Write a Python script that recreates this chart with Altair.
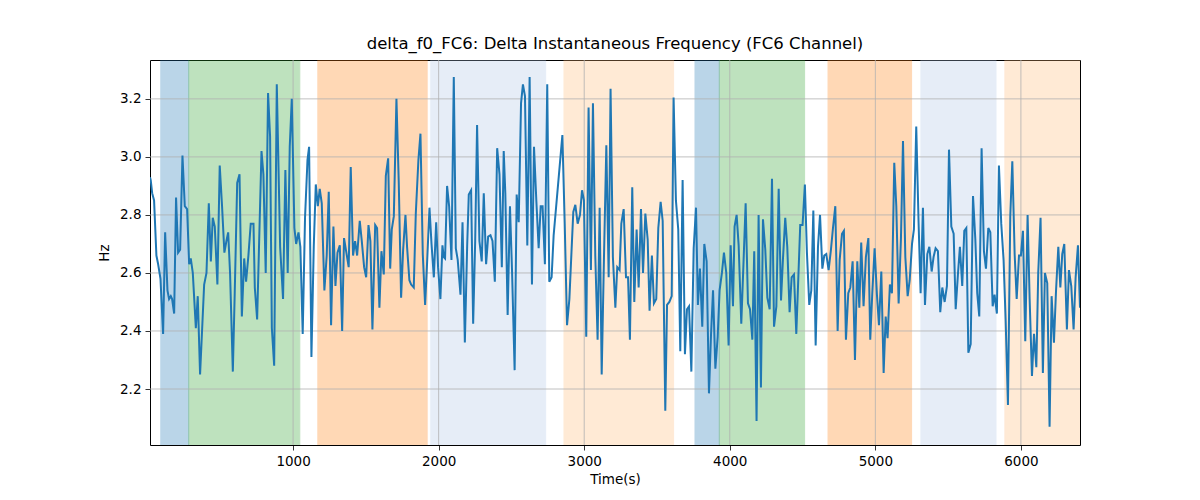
import altair as alt
import pandas as pd

chart_title = "delta_f0_FC6: Delta Instantaneous Frequency (FC6 Channel)"

# shaded segments behind the signal
span_start = [91, 283, 1170, 1946, 2861, 3761, 3928, 4675, 5313, 5890]
span_end = [283, 1046, 1921, 2735, 3614, 3928, 4514, 5249, 5829, 6406]
span_color = ["#1f77b4", "#2ca02c", "#ff7f0e", "#aec7e8", "#ffbb78",
              "#1f77b4", "#2ca02c", "#ff7f0e", "#aec7e8", "#ffbb78"]

x_ticks = [1000, 2000, 3000, 4000, 5000, 6000]
y_ticks = [2.2, 2.4, 2.6, 2.8, 3.0, 3.2]
x_limits = [17, 6406]
y_limits = [2.007, 3.334]

# (time in s, Hz)
delta_f0 = [
    (17, 2.93), (22, 2.92), (32, 2.875), (45, 2.85), (61, 2.66), (73, 2.63), (89, 2.58), (107, 2.39),
    (121, 2.74), (137, 2.54), (148, 2.51), (160, 2.52), (169, 2.51), (183, 2.46), (196, 2.86), (210, 2.67),
    (224, 2.68), (240, 3.005), (256, 2.83), (272, 2.82), (286, 2.63), (297, 2.65), (311, 2.60), (332, 2.41),
    (345, 2.52), (361, 2.25), (389, 2.56), (405, 2.60), (421, 2.84), (435, 2.64), (448, 2.79), (462, 2.76),
    (480, 2.56), (496, 2.97), (512, 2.83), (528, 2.67), (542, 2.71), (554, 2.74), (567, 2.60), (586, 2.26),
    (599, 2.53), (616, 2.91), (632, 2.94), (648, 2.45), (664, 2.65), (677, 2.57), (693, 2.66), (709, 2.77),
    (728, 2.77), (737, 2.55), (753, 2.44), (783, 3.02), (796, 2.94), (812, 2.60), (828, 3.22),
    (842, 3.07), (854, 2.41), (870, 2.28), (888, 3.25), (911, 2.69), (931, 2.51), (947, 2.955), (963, 2.60),
    (977, 3.035), (991, 3.20), (1009, 2.755), (1021, 2.70), (1037, 2.74), (1050, 2.69), (1066, 2.39),
    (1082, 2.79), (1099, 2.99), (1110, 3.035), (1126, 2.31), (1142, 2.69), (1156, 2.905), (1170, 2.83),
    (1183, 2.89), (1197, 2.84), (1215, 2.54), (1231, 2.66), (1245, 2.88), (1261, 2.42), (1277, 2.76),
    (1291, 2.555), (1305, 2.67), (1321, 2.695), (1337, 2.40), (1350, 2.72), (1366, 2.67), (1382, 2.62),
    (1396, 2.965), (1412, 2.66), (1426, 2.71), (1440, 2.66), (1458, 2.78), (1472, 2.71), (1488, 2.62),
    (1502, 2.585), (1518, 2.765), (1531, 2.71), (1545, 2.405), (1564, 2.765), (1577, 2.755), (1593, 2.48),
    (1607, 2.675), (1623, 2.595), (1637, 2.935), (1653, 2.995),
    (1667, 2.615), (1678, 2.75), (1692, 2.795), (1710, 3.20), (1726, 2.91), (1742, 2.515), (1756, 2.68),
    (1772, 2.80), (1783, 2.69), (1799, 2.575), (1811, 2.56), (1829, 2.55), (1843, 2.805), (1861, 2.99),
    (1875, 3.08), (1891, 2.665), (1907, 2.49), (1921, 2.64), (1937, 2.825), (1951, 2.70), (1967, 2.585),
    (1983, 2.775), (1996, 2.62), (2012, 2.51), (2026, 2.695), (2035, 2.655), (2044, 2.65), (2058, 2.90),
    (2072, 2.83), (2088, 2.645), (2104, 3.275), (2118, 2.685), (2131, 2.645), (2150, 2.525), (2164, 2.775),
    (2180, 2.36), (2196, 2.695), (2207, 2.87), (2223, 2.885), (2237, 2.425), (2251, 2.71), (2264, 3.11),
    (2280, 2.71), (2296, 2.64), (2310, 2.875), (2326, 2.63), (2340, 2.725), (2356, 2.73), (2370, 2.71),
    (2386, 2.57), (2402, 3.03), (2418, 2.94), (2434, 2.62),
    (2447, 3.02), (2458, 2.875), (2474, 2.455), (2490, 2.83), (2504, 2.61), (2522, 2.265), (2536, 2.87),
    (2550, 2.775), (2566, 3.185), (2579, 3.25), (2593, 3.21), (2609, 2.695), (2625, 3.275), (2641, 2.56),
    (2655, 3.035), (2671, 2.85), (2687, 2.685), (2701, 2.83), (2714, 2.83), (2730, 2.63), (2746, 3.25),
    (2760, 2.57), (2776, 2.585), (2790, 2.73), (2850, 3.075), (2866, 2.77), (2882, 2.42), (2898, 2.51),
    (2911, 2.655), (2925, 2.81), (2939, 2.835), (2955, 2.77), (2971, 2.80), (2985, 2.885), (2998, 2.85),
    (3014, 2.38), (3030, 3.17), (3046, 2.61), (3060, 3.185), (3076, 2.66), (3092, 2.37), (3106, 2.825),
    (3120, 2.25), (3136, 2.66), (3152, 3.04), (3168, 2.585), (3181, 3.235), (3197, 2.655), (3214, 2.48),
    (3227, 2.62),
    (3243, 2.61), (3255, 2.77), (3271, 2.82), (3287, 2.585), (3301, 2.585), (3314, 2.37), (3330, 2.895),
    (3344, 2.50), (3360, 2.75), (3374, 2.55), (3390, 2.82), (3404, 2.60), (3420, 2.805), (3436, 2.715),
    (3449, 2.47), (3465, 2.66), (3479, 2.495), (3495, 2.51), (3509, 2.755), (3525, 2.845), (3539, 2.78),
    (3557, 2.125), (3569, 2.49), (3585, 2.50), (3601, 2.52), (3614, 3.205), (3630, 2.85), (3646, 2.75),
    (3660, 2.33), (3676, 2.92), (3692, 2.32), (3706, 2.475), (3720, 2.485), (3736, 2.26), (3752, 2.685),
    (3768, 2.825), (3781, 2.49), (3795, 2.615), (3811, 2.415), (3825, 2.70), (3841, 2.64), (3857, 2.185),
    (3871, 2.385), (3885, 2.54), (3901, 2.27), (3917, 2.38), (3930, 2.54), (3946, 2.60), (3960, 2.67),
    (3976, 2.60), (3992, 2.35), (4006, 2.695), (4022, 2.485),
    (4033, 2.76), (4047, 2.80), (4061, 2.695), (4079, 2.425), (4095, 2.645), (4109, 2.84), (4125, 2.495),
    (4139, 2.475), (4155, 2.37), (4168, 2.675), (4184, 2.09), (4198, 2.80), (4214, 2.205), (4228, 2.785),
    (4244, 2.68), (4258, 2.515), (4274, 2.475), (4290, 2.925), (4304, 2.415), (4320, 2.485), (4336, 2.89),
    (4352, 2.505), (4365, 2.645), (4381, 2.79), (4395, 2.69), (4411, 2.465), (4425, 2.585), (4441, 2.595),
    (4457, 2.39), (4471, 2.585), (4484, 2.765), (4500, 2.765), (4516, 2.905), (4530, 2.67), (4546, 2.49),
    (4560, 2.54), (4574, 2.815), (4590, 2.35), (4606, 2.69), (4620, 2.80), (4636, 2.615), (4649, 2.66),
    (4663, 2.665), (4679, 2.61), (4695, 2.68), (4709, 2.755), (4725, 2.83), (4741, 2.40), (4755, 2.645),
    (4771, 2.735), (4784, 2.745), (4798, 2.37),
    (4814, 2.53), (4828, 2.55), (4844, 2.64), (4860, 2.30), (4876, 2.64), (4890, 2.48), (4903, 2.705),
    (4919, 2.485), (4935, 2.655), (4952, 2.72), (4965, 2.37), (4979, 2.53), (4995, 2.685), (5011, 2.525),
    (5025, 2.42), (5041, 2.605), (5057, 2.255), (5071, 2.45), (5084, 2.375), (5100, 2.56), (5114, 2.53),
    (5130, 2.98), (5144, 2.83), (5160, 2.495), (5176, 2.72), (5190, 3.055), (5206, 2.655), (5222, 2.52),
    (5236, 2.575), (5252, 2.70), (5265, 2.75), (5281, 3.105), (5297, 2.775), (5311, 2.53), (5327, 2.825),
    (5341, 2.49), (5357, 2.665), (5371, 2.69), (5387, 2.605), (5400, 2.655), (5414, 2.685), (5430, 2.675),
    (5446, 2.465), (5460, 2.55), (5476, 2.50), (5492, 2.555), (5506, 3.025), (5522, 2.76), (5538, 2.735),
    (5552, 2.475), (5568, 2.60), (5581, 2.69), (5597, 2.555),
    (5611, 2.745), (5625, 2.755), (5639, 2.325), (5655, 2.355), (5671, 2.865), (5687, 2.715), (5700, 2.53),
    (5714, 2.45), (5730, 3.03), (5746, 2.675), (5760, 2.615), (5776, 2.755), (5790, 2.74), (5806, 2.485),
    (5819, 2.525), (5835, 2.46), (5849, 2.97), (5865, 2.77), (5881, 2.645), (5895, 2.44), (5911, 2.145),
    (5927, 2.795), (5941, 2.985), (5957, 2.665), (5971, 2.51), (5987, 2.66), (6000, 2.66), (6014, 2.745),
    (6030, 2.365), (6046, 2.80), (6060, 2.51), (6076, 2.245), (6090, 2.39), (6106, 2.275), (6119, 2.60),
    (6135, 2.79), (6151, 2.255), (6165, 2.60), (6181, 2.565), (6197, 2.07), (6211, 2.52), (6227, 2.36),
    (6241, 2.535), (6257, 2.69), (6271, 2.55), (6284, 2.665), (6298, 2.70), (6316, 2.405), (6330, 2.61),
    (6346, 2.555), (6362, 2.405), (6376, 2.585), (6392, 2.695), (6406, 2.48),
]

df = pd.DataFrame(delta_f0, columns=["t", "hz"])
spans = pd.DataFrame({"start": span_start, "end": span_end, "color": span_color})

FONT = "DejaVu Sans"
x_scale = alt.Scale(domain=x_limits, nice=False, zero=False)
y_scale = alt.Scale(domain=y_limits, nice=False, zero=False)

# one axis definition shared by every layer so the merge keeps it
axis_style = dict(grid=False, domain=False, tickSize=5, tickColor="black", tickWidth=0.8,
                  labelPadding=4, labelFont=FONT, titleFont=FONT, labelFontSize=13.5,
                  titleFontSize=13.5, labelColor="black", titleColor="black",
                  titleFontWeight="normal")
x_axis = alt.Axis(title="Time(s)", values=x_ticks, format="d", titlePadding=5, **axis_style)
y_axis = alt.Axis(title="Hz", values=y_ticks, format=".1f", titlePadding=8, **axis_style)

shade = alt.Chart(spans).mark_rect(opacity=0.3, strokeWidth=1, clip=True).encode(
    x=alt.X("start:Q", scale=x_scale, axis=x_axis),
    x2="end:Q",
    y=alt.value(0),
    y2=alt.value(385),
    color=alt.Color("color:N", scale=None),
    stroke=alt.Stroke("color:N", scale=None),
)

grid_x = alt.Chart(pd.DataFrame({"v": x_ticks})).mark_rule(color="#b0b0b0", strokeWidth=0.8).encode(
    x=alt.X("v:Q", scale=x_scale, axis=x_axis)
)
grid_y = alt.Chart(pd.DataFrame({"v": y_ticks})).mark_rule(color="#b0b0b0", strokeWidth=0.8).encode(
    y=alt.Y("v:Q", scale=y_scale, axis=y_axis)
)

line = alt.Chart(df).mark_line(color="#1f77b4", strokeWidth=2, clip=True).encode(
    x=alt.X("t:Q", scale=x_scale, axis=x_axis),
    y=alt.Y("hz:Q", scale=y_scale, axis=y_axis),
)

chart = alt.layer(shade, grid_x, grid_y, line).properties(
    width=930,
    height=385,
    title=alt.TitleParams(chart_title, font=FONT, fontSize=16.5, fontWeight="normal",
                          color="black", offset=7),
    autosize=alt.AutoSizeParams(type="none"),
    padding={"left": 142, "top": 52, "right": 10, "bottom": 55},
).configure_view(stroke="black", strokeWidth=1)

chart.save("out.html", embed_options={"renderer": "svg", "actions": False})
